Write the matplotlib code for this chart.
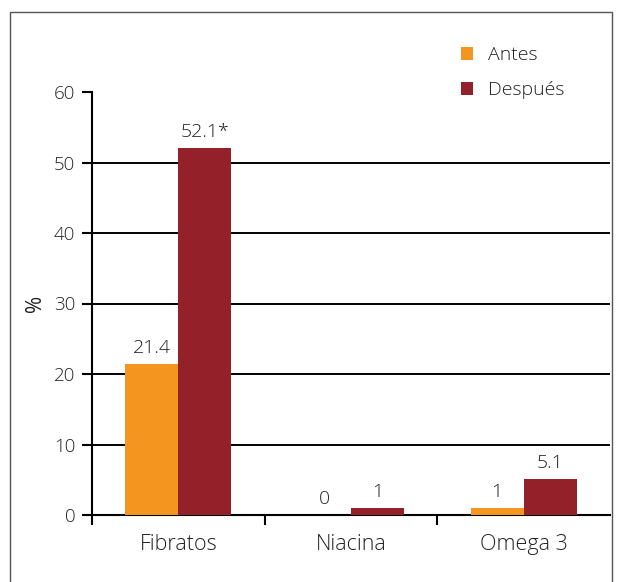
import matplotlib
matplotlib.use("Agg")
import matplotlib.pyplot as plt
from matplotlib.patches import Patch, Rectangle
import numpy as np

categories = ["Fibratos", "Niacina", "Omega 3"]
antes = [21.4, 0, 1]
despues = [52.1, 1, 5.1]
antes_labels = ["21.4", "0", "1"]
despues_labels = ["52.1*", "1", "5.1"]
series_names = ["Antes", "Después"]
yticks = [0, 10, 20, 30, 40, 50, 60]

c_antes = "#F4951F"
c_desp = "#942129"
txt = "#222222"

plt.rcParams['font.family'] = ['Open Sans', 'DejaVu Sans']
plt.rcParams['font.weight'] = 'light'

fig = plt.figure(figsize=(6.17, 5.82), dpi=100)
ax = fig.add_axes([92/617, 1-515/582, (610-92)/617, (515-92)/582])

x = np.arange(len(categories))
w = 0.307
b1 = ax.bar(x - w/2, antes, w, color=c_antes, zorder=3)
b2 = ax.bar(x + w/2, despues, w, color=c_desp, zorder=3)

for rect, lab in zip(b1, antes_labels):
    ax.annotate(lab, (rect.get_x()+rect.get_width()/2, rect.get_height()),
                xytext=(0, 5), textcoords="offset points", ha="center", va="bottom",
                fontsize=14, color=txt)
for rect, lab in zip(b2, despues_labels):
    ax.annotate(lab, (rect.get_x()+rect.get_width()/2, rect.get_height()),
                xytext=(0, 5), textcoords="offset points", ha="center", va="bottom",
                fontsize=14, color=txt)

ax.set_xlim(-0.5, len(categories)-0.5)
ax.set_ylim(0, 60)
ax.set_yticks(yticks)
ax.set_yticklabels([str(t) for t in yticks], fontsize=13.5, color=txt)
ax.set_xticks(x)
ax.set_xticklabels(categories, fontsize=15.5, color=txt)
ax.tick_params(axis='x', which='major', length=0, pad=14)
ax.set_xticks(np.arange(len(categories)) - 0.5, minor=True)
ax.tick_params(axis='x', which='minor', length=7, width=1.5, color='black', direction='out')
ax.tick_params(axis='y', length=7, width=1.5, color='black', direction='out', pad=5)

for s in ['top', 'right']:
    ax.spines[s].set_visible(False)
for s in ['left', 'bottom']:
    ax.spines[s].set_linewidth(1.5)
    ax.spines[s].set_color('black')

ax.yaxis.grid(True, color='black', linewidth=1.4, zorder=1)
ax.set_axisbelow(True)
gl = ax.get_ygridlines()
gl[-1].set_visible(False)

ax.set_ylabel("%", fontsize=15, color=txt, labelpad=6)

handles = [Patch(facecolor=c_antes, edgecolor='none'), Patch(facecolor=c_desp, edgecolor='none')]
fig.legend(handles, series_names, loc='upper left', bbox_to_anchor=(443/617, 1-29/582),
           frameon=False, fontsize=14, handlelength=0.65, handleheight=0.65,
           handletextpad=0.75, labelspacing=0.85, labelcolor=txt)

fig.patches.append(Rectangle((10/617, -0.05), (612-10)/617, 1.05-12/582, transform=fig.transFigure,
                             fill=False, edgecolor='#555555', linewidth=1.0))

fig.savefig("out.png", dpi=100)
